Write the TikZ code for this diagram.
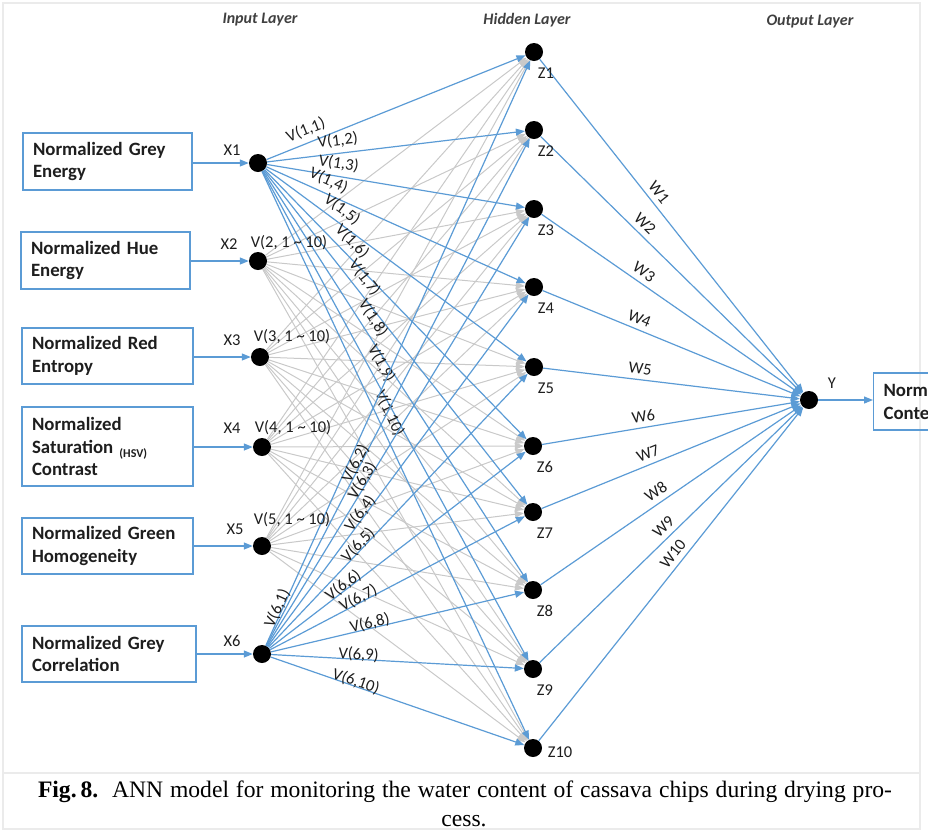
\documentclass[tikz,border=0pt]{standalone}
\usepackage{fontspec}
\setmainfont{Carlito}
\newfontfamily\capfont{Liberation Serif}
\usetikzlibrary{arrows.meta,calc}
\definecolor{nnblue}{HTML}{5B9BD5}
\definecolor{nngray}{HTML}{C9C9C9}
\definecolor{framegray}{HTML}{EBEBEB}
\definecolor{titlegray}{HTML}{404040}
\definecolor{labblack}{HTML}{1E1E1E}
\newcommand{\boxfont}{\fontsize{18.8}{22.5}\selectfont\bfseries}
\newcommand{\labfont}{\fontsize{16.5}{17}\selectfont}
\begin{document}
\begin{tikzpicture}[x=1pt,y=-1pt,
  neuron/.style={circle,fill=black,minimum size=18pt,inner sep=0pt},
  inbox/.style={draw=nnblue,line width=1.1pt,text width=#1,align=left,inner xsep=10pt,inner ysep=0pt,font=\boxfont,text=labblack},
  bedge/.style={draw=nnblue,line width=1.2pt,-{Triangle[length=9pt,width=7pt]}},
  gedge/.style={draw=nngray,line width=1pt,-{Triangle[length=9pt,width=7pt]}},
  lab/.style={font=\labfont,text=labblack,inner sep=0pt},
  vlabA/.style={lab,sloped,anchor=south,inner ysep=5pt,inner xsep=0pt},
  vlabB/.style={lab,sloped,anchor=base},
  ttl/.style={font=\fontsize{16}{16}\selectfont\bfseries\itshape,text=titlegray},
  caption/.style={font=\capfont\fontsize{23.6}{27}\selectfont,text=black,inner sep=0pt,anchor=base}]
\clip (0,0) rectangle (928,831);
% frame
\draw[framegray,line width=1.2pt] (3,3) rectangle (920,829);
\draw[framegray,line width=1.2pt] (3,773) -- (920,773);

% titles
\node[ttl] (tin) at (260,20) {Input Layer};
\node[ttl] (thid) at (527,20) {Hidden Layer};
\node[ttl] (tout) at (810,22) {Output Layer};

% input boxes
\node[inbox=149pt,minimum height=57pt] (b1) at (107.5,161.5) {Normalized Grey\\Energy};
\node[inbox=149pt,minimum height=57pt] (b2) at (105.5,260.5) {Normalized Hue\\Energy};
\node[inbox=151pt,minimum height=56pt] (b3) at (107.5,356) {Normalized Red\\Entropy};
\node[inbox=151pt,minimum height=79pt] (b4) at (107.5,446.5) {Normalized\\Saturation {\fontsize{12}{12}\selectfont\raisebox{-4pt}{(HSV)}}\\Contrast};
\node[inbox=151pt,minimum height=56pt] (b5) at (107.5,546) {Normalized Green\\Homogeneity};
\node[inbox=154pt,minimum height=56pt] (b6) at (109,654) {Normalized Grey\\Correlation};

% input neurons
\node[neuron] (x1) at (258,163) {};
\node[neuron] (x2) at (258,261) {};
\node[neuron] (x3) at (260,357) {};
\node[neuron] (x4) at (262,447) {};
\node[neuron] (x5) at (262,546) {};
\node[neuron] (x6) at (262,654) {};

% hidden neurons
\node[neuron] (z1) at (534,52) {};
\node[neuron] (z2) at (534,130) {};
\node[neuron] (z3) at (534,209) {};
\node[neuron] (z4) at (534,287) {};
\node[neuron] (z5) at (534,367) {};
\node[neuron] (z6) at (533,446) {};
\node[neuron] (z7) at (533,512) {};
\node[neuron] (z8) at (533,590) {};
\node[neuron] (z9) at (533,669) {};
\node[neuron] (z10) at (533,748) {};

% output neuron and box
\node[neuron] (y) at (809,400) {};
\node[draw=nnblue,line width=1.1pt,anchor=west,text width=160pt,align=left,inner xsep=10pt,inner ysep=0pt,minimum height=57pt,font=\boxfont,text=labblack] (ob) at (873,401.5) {Normalized Water\\Content};

% box -> input arrows
\foreach \i in {1,...,6} {\draw[bedge] (b\i.east |- x\i) -- (x\i);}
\draw[bedge] (y) -- (ob.west |- y);

% gray edges
\foreach \i in {2,...,5} {\foreach \j in {1,...,10} {\draw[gedge] (x\i) -- (z\j);}}

% blue edges from X1
\foreach \j/\p in {1/0.17,2/0.28,3/0.27,4/0.22,5/0.265,6/0.30,7/0.345,8/0.375,9/0.405,10/0.435}
  {\draw[bedge] (x1) -- node[vlabA,pos=\p] (v1\j) {V(1,\j)} (z\j);}
% blue edges from X6
\foreach \j/\p in {1/0.06,2/0.355,3/0.38,4/0.37,5/0.36,6/0.30,7/0.355,8/0.395,9/0.345,10/0.33}
  {\draw[bedge] (x6) -- node[vlabB,pos=\p] (v6\j) {V(6,\j)} (z\j);}
% hidden -> output
\foreach \j/\p in {1/0.42,2/0.37,3/0.37,4/0.36,5/0.373,6/0.40,7/0.427,8/0.466,9/0.50,10/0.54}
  {\draw[bedge] (z\j) -- node[vlabA,pos=\p] (w\j) {W\j} (y);}

% input labels
\node[lab] (lx1) at (232,150) {X1};
\node[lab] (lx2) at (229,244) {X2};
\node[lab] (lx3) at (232,340) {X3};
\node[lab] (lx4) at (232,428) {X4};
\node[lab] (lx5) at (235,529) {X5};
\node[lab] (lx6) at (232,641) {X6};
\node[lab] (lv2) at (289,243) {V(2, 1 \char`\~{} 10)};
\node[lab] (lv3) at (292,337) {V(3, 1 \char`\~{} 10)};
\node[lab] (lv4) at (293,428) {V(4, 1 \char`\~{} 10)};
\node[lab] (lv5) at (292,520) {V(5, 1 \char`\~{} 10)};

% hidden labels
\foreach \j in {1,...,9} {\node[lab] (lz\j) at ($(z\j)+(12,21)$) {Z\j};}
\node[lab] (lz10) at (560,752) {Z10};
\node[lab] (ly) at (832,383) {Y};

% caption
\node[caption] (cap1) at (465,797) {\makebox[854pt][s]{\textbf{Fig.\,8.}\ \ ANN model for monitoring the water content of cassava chips during drying pro-}};
\node[caption] (cap2) at (464,826) {cess.};
\end{tikzpicture}
\end{document}
